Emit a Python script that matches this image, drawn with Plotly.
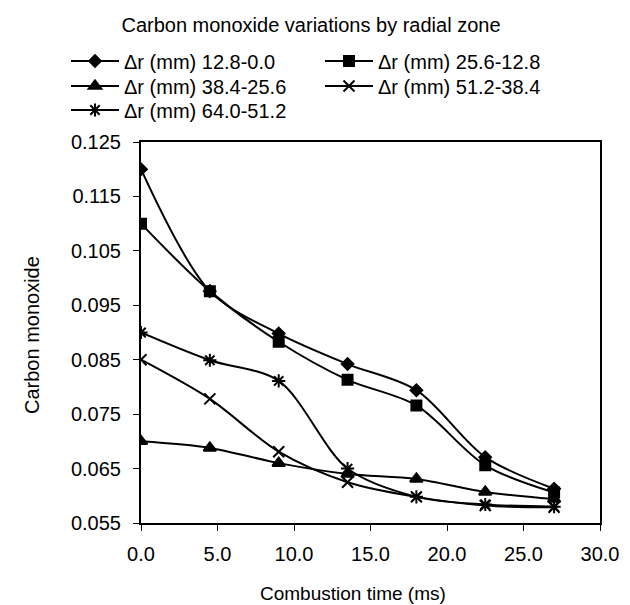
import plotly.graph_objects as go

time_ms = [0.0, 4.5, 9.0, 13.5, 18.0, 22.5, 27.0]
series_names = ["Δr (mm) 12.8-0.0", "Δr (mm) 25.6-12.8", "Δr (mm) 38.4-25.6",
                "Δr (mm) 51.2-38.4", "Δr (mm) 64.0-51.2"]
co_12_8 = [0.120, 0.0976, 0.0898, 0.0842, 0.0794, 0.0671, 0.0613]
co_25_6 = [0.110, 0.0976, 0.0883, 0.0813, 0.0766, 0.0656, 0.0606]
co_38_4 = [0.070, 0.0688, 0.0660, 0.0640, 0.0631, 0.0607, 0.0594]
co_51_2 = [0.085, 0.0778, 0.0681, 0.0625, 0.0598, 0.0582, 0.0579]
co_64_0 = [0.090, 0.0849, 0.0811, 0.0650, 0.0598, 0.0584, 0.0580]
x_ticks = [0, 5, 10, 15, 20, 25, 30]
y_ticks = [0.055, 0.065, 0.075, 0.085, 0.095, 0.105, 0.115, 0.125]
x_title = "Combustion time (ms)"
y_title = "Carbon monoxide"
chart_title = "Carbon monoxide variations by radial zone"

all_series = [co_12_8, co_25_6, co_38_4, co_51_2, co_64_0]
symbols = ["diamond", "square", "triangle-up", "x-thin-open", "asterisk-open"]
sizes = [9, 10, 11, 11, 11]
legend_ids = ["legend", "legend2", "legend3", "legend4", "legend5"]
# legend placement in pixels (left edge, row centre) -- layout only
legend_pos = [(58, 53), (312, 53), (58, 78), (312, 78), (58, 102)]

W, H = 630, 605
L, R, T, B = 133, 38, 134, 90
PW, PH = W - L - R, H - T - B

fig = go.Figure()
for name, vals, sym, sz, lg in zip(series_names, all_series, symbols, sizes, legend_ids):
    fig.add_trace(go.Scatter(
        x=time_ms, y=vals, name=name, mode="lines+markers", legend=lg,
        line=dict(color="black", width=2, shape="spline", smoothing=0.9),
        marker=dict(symbol=sym, size=sz, color="black",
                    line=dict(color="black", width=2)),
    ))

font = "Liberation Sans, Arial, sans-serif"
legends = {}
for lg, (px, py) in zip(legend_ids, legend_pos):
    legends[lg] = dict(orientation="v", xref="container", yref="container",
                       x=px / W, xanchor="left", y=1 - py / H, yanchor="middle",
                       itemwidth=48, tracegroupgap=0, font=dict(size=20),
                       bgcolor="rgba(0,0,0,0)", borderwidth=0)

fig.update_layout(
    width=W, height=H,
    paper_bgcolor="white", plot_bgcolor="white",
    margin=dict(l=L, r=R, t=T, b=B, autoexpand=False),
    font=dict(family=font, size=20, color="black"),
    title=dict(text=chart_title,
               x=303 / W, xanchor="center", xref="container",
               y=1 - 17 / H, yanchor="middle", yref="container",
               font=dict(size=20)),
    showlegend=True,
    annotations=[
        dict(text=y_title, textangle=-90, showarrow=False,
             xref="paper", yref="paper", x=(24 - L) / PW, y=(H - B - 327) / PH,
             xanchor="center", yanchor="middle", font=dict(size=20)),
        dict(text=x_title, showarrow=False,
             xref="paper", yref="paper", x=(345 - L) / PW, y=(H - B - 585) / PH,
             xanchor="center", yanchor="middle", font=dict(size=19)),
    ],
    **legends,
)
fig.update_xaxes(range=[0, 30], tickvals=x_ticks,
                 ticktext=[f"{v:.1f}" for v in x_ticks],
                 showgrid=False, zeroline=False, showline=True, linecolor="black",
                 linewidth=2, mirror=True, ticks="outside", ticklen=6,
                 tickcolor="black", tickwidth=1, ticklabelstandoff=6)
fig.update_yaxes(range=[0.055, 0.125], tickvals=y_ticks,
                 ticktext=[f"{v:.3f}" for v in y_ticks],
                 showgrid=False, zeroline=False, showline=True, linecolor="black",
                 linewidth=2, mirror=True, ticks="outside", ticklen=6,
                 tickcolor="black", tickwidth=1, ticklabelstandoff=8)
fig.write_html("out.html")
